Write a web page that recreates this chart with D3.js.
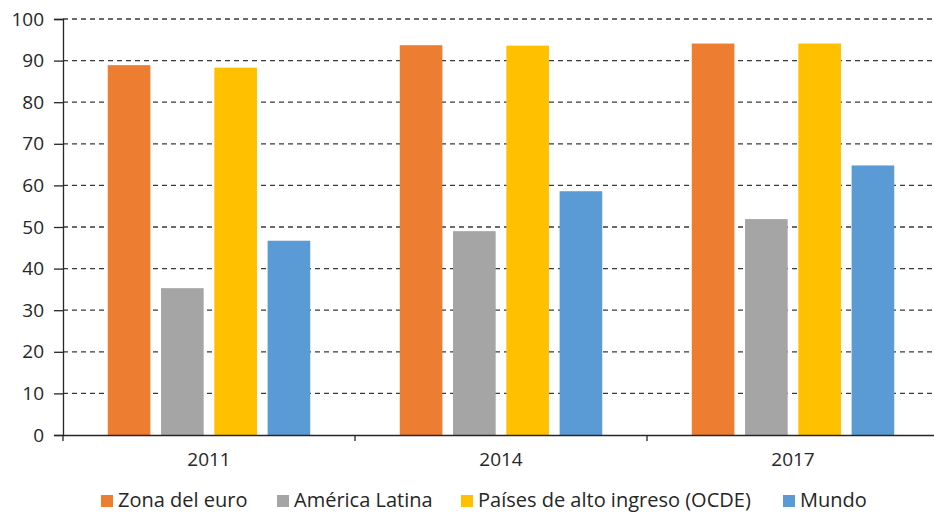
<!DOCTYPE html>
<html><head><meta charset="utf-8">
<script src="https://cdn.jsdelivr.net/npm/d3@7"></script>
<style>body{margin:0;background:#fff}svg{display:block}text{font-family:"Open Sans","Noto Sans",sans-serif;fill:#262626}</style>
</head><body><svg id="c" width="934" height="514"></svg>
<script>
const years = ["2011","2014","2017"];
const series = ["Zona del euro","América Latina","Países de alto ingreso (OCDE)","Mundo"];
const colors = ["#ED7D31","#A5A5A5","#FFC000","#5B9BD5"];
const zonaEuro = [88.9, 93.7, 94.1];
const americaLatina = [35.3, 49.0, 51.9];
const paisesOCDE = [88.3, 93.6, 94.1];
const mundo = [46.7, 58.6, 64.8];
const yTicks = [0,10,20,30,40,50,60,70,80,90,100];

const values = [zonaEuro, americaLatina, paisesOCDE, mundo];
const svg = d3.select("#c");
const mLeft = 63, mRight = 939, mTop = 19, mBottom = 435;
const x0 = d3.scaleBand().domain(years).range([mLeft, mRight]).padding(0);
const x1 = d3.scaleBand().domain(series).range([0, x0.bandwidth()]).paddingInner(0.2).paddingOuter(0.84);
const y = d3.scaleLinear().domain([0,100]).range([mBottom, mTop]);

// grid
svg.append("g").selectAll("line").data(yTicks.filter(d=>d>0)).join("line")
  .attr("x1", mLeft).attr("x2", mRight).attr("y1", d=>y(d)).attr("y2", d=>y(d))
  .attr("stroke","#3a3a3a").attr("stroke-width",1.3).attr("stroke-dasharray","5,4");

// bars
const g = svg.append("g").selectAll("g").data(years).join("g")
  .attr("transform", d=>`translate(${x0(d)},0)`);
g.selectAll("rect").data((d,i)=>series.map((s,j)=>({s, j, v: values[j][i]}))).join("rect")
  .attr("x", d=>x1(d.s)).attr("width", x1.bandwidth())
  .attr("y", d=>y(d.v)).attr("height", d=>y(0)-y(d.v))
  .attr("fill", d=>colors[d.j]);

// y axis
const ya = d3.axisLeft(y).tickValues(yTicks).tickSize(9).tickPadding(10);
const yg = svg.append("g").attr("transform",`translate(${mLeft},0)`).call(ya);
yg.select(".domain").attr("stroke","#262626").attr("stroke-width",1.3);
yg.selectAll(".tick line").attr("stroke","#262626").attr("stroke-width",1.3);
yg.selectAll(".tick text").attr("font-size",19).style("font-family","'Open Sans','Noto Sans',sans-serif").attr("fill","#262626");

// x axis
const xa = d3.axisBottom(x0).tickSize(0).tickPadding(18);
const xg = svg.append("g").attr("transform",`translate(0,${mBottom})`).call(xa);
xg.select(".domain").attr("stroke","#262626").attr("stroke-width",1.3);
xg.selectAll(".tick text").attr("font-size",19).style("font-family","'Open Sans','Noto Sans',sans-serif").attr("fill","#262626");
const bounds = years.map(d=>x0(d)).concat([mRight]);
xg.append("g").selectAll("line").data(bounds).join("line")
  .attr("x1", d=>d).attr("x2", d=>d).attr("y1",0).attr("y2",6)
  .attr("stroke","#262626").attr("stroke-width",1.3);

// legend
const legX = [101, 277, 461, 783];
const lg = svg.append("g").selectAll("g").data(series).join("g")
  .attr("transform",(d,i)=>`translate(${legX[i]},495)`);
lg.append("rect").attr("width",12).attr("height",12).attr("fill",(d,i)=>colors[i]);
lg.append("text").attr("x",17).attr("y",12).attr("font-size",20).text(d=>d);
</script></body></html>
